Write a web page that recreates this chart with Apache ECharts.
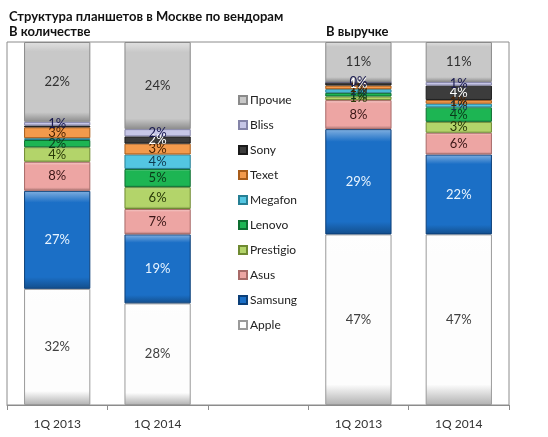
<!DOCTYPE html>
<html><head><meta charset="utf-8">
<script src="https://cdn.jsdelivr.net/npm/echarts@6/dist/echarts.min.js"></script>
<style>html,body{margin:0;padding:0;background:#fff}#c{width:548px;height:437px}</style>
</head><body><div id="c"></div>
<script>
const categories = ['1Q 2013', '1Q 2014', '', '1Q 2013', '1Q 2014'];
const vendors = ['Apple', 'Samsung', 'Asus', 'Prestigio', 'Lenovo', 'Megafon', 'Texet', 'Sony', 'Bliss', 'Прочие'];
const apple     = [32, 28, null, 47, 47];
const samsung   = [27, 19, null, 29, 22];
const asus      = [8, 7, null, 8, 6];
const prestigio = [4, 6, null, 1, 3];
const lenovo    = [2, 5, null, 1, 4];
const megafon   = [0.5, 4, null, 1, 1];
const texet     = [3, 3, null, 1, 1];
const sony      = [0.5, 2, null, 1, 4];
const bliss     = [1, 2, null, 0, 1];
const others    = [22, 24, null, 11, 11];
const values = [apple, samsung, asus, prestigio, lenovo, megafon, texet, sony, bliss, others];
// segments whose label is not shown in the reference: [vendor, categoryIndex]
const unlabeled = [['Megafon', 0], ['Sony', 0]];

const baseColors = ['#fdfdfd', '#1b6fc6', '#eda5a3', '#b3d46a', '#1db553', '#53c6e2', '#f39a4c', '#3c3c3c', '#c6c6e6', '#c8c8c8'];
const edgeColors = ['#9a9a9a', '#0c3f78', '#a86a68', '#6f8a32', '#0d6e30', '#267f94', '#a85c1a', '#1a1a1a', '#8484a8', '#8a8a8a'];
const labelColors = ['#404040', '#e8f4ff', '#3a1616', '#2a3a08', '#0a3a1a', '#103a50', '#4a2200', '#ffffff', '#1a1a50', '#303030'];

function shade(hex, f) {
  const n = parseInt(hex.slice(1), 16);
  let r = n >> 16, g = (n >> 8) & 255, b = n & 255;
  if (f > 0) { r += (255 - r) * f; g += (255 - g) * f; b += (255 - b) * f; }
  else { r *= 1 + f; g *= 1 + f; b *= 1 + f; }
  return 'rgb(' + Math.round(r) + ',' + Math.round(g) + ',' + Math.round(b) + ')';
}
function grad(i) {
  const c = baseColors[i];
  return { type: 'linear', x: 0, y: 0, x2: 0, y2: 1, colorStops: [
    { offset: 0, color: shade(c, 0.45) },
    { offset: 0.12, color: c },
    { offset: 0.88, color: c },
    { offset: 1, color: shade(c, -0.3) }
  ]};
}

const series = vendors.map((name, i) => ({
  name: name,
  type: 'bar',
  stack: 'total',
  barWidth: '66%',
  data: values[i].map((v, ci) => {
    const hide = unlabeled.some(u => u[0] === name && u[1] === ci);
    return hide ? { value: v, label: { show: false } } : v;
  }),
  itemStyle: { color: grad(i), borderColor: edgeColors[i], borderWidth: 1 },
  label: {
    show: true, position: 'inside',
    color: labelColors[i], fontFamily: 'Lato', fontSize: 13,
    formatter: p => p.value == null ? '' : Math.round(p.value) + '%'
  },
  emphasis: { disabled: true }
}));

const chart = echarts.init(document.getElementById('c'));
chart.setOption({
  animation: false,
  title: [
    { text: 'Структура планшетов в Москве по вендорам', left: 4, top: 5, textStyle: { fontFamily: 'Lato', fontWeight: 'bold', fontSize: 13, color: '#111' } },
    { text: 'В количестве', left: 4, top: 20, textStyle: { fontFamily: 'Lato', fontWeight: 'bold', fontSize: 13, color: '#111' } },
    { text: 'В выручке', left: 321, top: 20, textStyle: { fontFamily: 'Lato', fontWeight: 'bold', fontSize: 13, color: '#111' } }
  ],
  legend: {
    orient: 'vertical', left: 233, top: 88,
    data: vendors.slice().reverse(),
    itemWidth: 8, itemHeight: 8, itemGap: 11,
    icon: 'rect',
    textStyle: { fontFamily: 'Lato', fontSize: 12, color: '#222', lineHeight: 14, padding: [0, 0, 0, -2] },
    selectedMode: false
  },
  grid: { left: 7, right: 39, top: 42, bottom: 32, show: true, borderColor: '#8c8c8c', borderWidth: 1 },
  xAxis: {
    type: 'category', data: categories,
    axisLine: { lineStyle: { color: '#8c8c8c' } },
    axisTick: { show: true, length: 5, lineStyle: { color: '#8c8c8c' } },
    axisLabel: { fontFamily: 'Lato', fontSize: 12, color: '#333', margin: 13 }
  },
  yAxis: { type: 'value', min: 0, max: 100, show: false, splitLine: { show: false } },
  series: series
});
</script></body></html>
